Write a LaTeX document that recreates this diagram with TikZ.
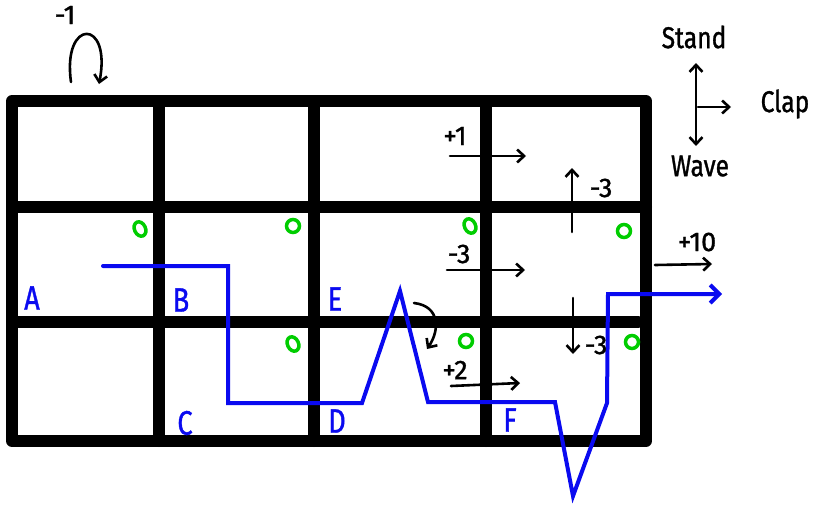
\documentclass[tikz,border=0pt]{standalone}
\usepackage{fontspec}
\setmainfont{Fira Sans}[FakeBold=1.2]
\usetikzlibrary{arrows.meta,shapes.geometric}
\definecolor{pathblue}{RGB}{10,10,240}
\definecolor{markgreen}{RGB}{0,205,0}
\tikzset{
  wall/.style={line width=12pt, line cap=round, line join=round},
  pen/.style={line width=2.6pt, line cap=round, line join=round,
    -{Straight Barb[length=7pt,width=13pt,line width=2.6pt]}},
  dualpen/.style={line width=2.6pt, line cap=round,
    {Straight Barb[length=7pt,width=13pt,line width=2.6pt]}-{Straight Barb[length=7pt,width=13pt,line width=2.6pt]}},
  route/.style={line width=4pt, color=pathblue, line join=miter, line cap=round},
  coin/.style={draw=markgreen, line width=3.5pt, ellipse, minimum width=13pt, minimum height=13pt, inner sep=0pt},
  tallcoin/.style={coin, minimum width=11pt, minimum height=15pt, rotate=25},
  num/.style={font=\fontsize{27}{30}\selectfont, inner sep=0pt},
  word/.style={font=\fontsize{30}{34}\selectfont, inner sep=0pt, xscale=0.82},
  cell/.style={font=\fontsize{34}{38}\selectfont, inner sep=0pt, xscale=0.8, text=pathblue},
}
\begin{document}
\begin{tikzpicture}[x=1pt,y=-1pt]
\useasboundingbox (0,0) rectangle (819,504);

% grid of rooms
\draw[wall] (12,101) rectangle (646,441);
\foreach \gx in {159,314,486} \draw[wall] (\gx,101) -- (\gx,441);
\draw[wall] (12,207) -- (646,207);
\draw[wall] (12,322) -- (638,322);

% green markers
\node[tallcoin] (m1) at (140,229) {};
\node[coin] (m2) at (293,226) {};
\node[tallcoin] (m3) at (470,226) {};
\node[coin] (m4) at (624,231) {};
\node[tallcoin] (m5) at (293,344) {};
\node[coin] (m6) at (466,341) {};
\node[coin] (m7) at (632,342) {};

% room labels
\node[cell] (A) at (32,298) {A};
\node[cell] (B) at (181,300) {B};
\node[cell] (E) at (335,299) {E};
\node[cell] (C) at (185,423) {C};
\node[cell] (D) at (337,421) {D};
\node[cell] (F) at (510,420) {F};

% route
\coordinate (r0) at (103,266);
\coordinate (r1) at (228,266);
\coordinate (r2) at (228,403);
\coordinate (r3) at (362,403);
\coordinate (r4) at (400,291);
\coordinate (r5) at (428,402);
\coordinate (r6) at (555,402);
\coordinate (r7) at (573,496);
\coordinate (r8) at (607,403);
\coordinate (r9) at (608,294);
\coordinate (r10) at (722,294);
\draw[route, -{Straight Barb[length=9pt,width=18pt,line width=4pt]}]
  (r0) -- (r1) -- (r2) -- (r3) -- (r4) -- (r5) -- (r6) -- (r7) -- (r8) -- (r9) -- (r10);

% rewards
\coordinate (p1a) at (450,156); \coordinate (p1b) at (526,156);
\draw[pen] (p1a) -- (p1b);
\node[num] (t1) at (455,136) {+1};

\coordinate (u1a) at (572,232); \coordinate (u1b) at (572,168);
\draw[pen] (u1a) -- (u1b);
\node[num] (t2) at (601,188) {-3};

\coordinate (p3a) at (447,270); \coordinate (p3b) at (525,270);
\draw[pen] (p3a) -- (p3b);
\node[num] (t3) at (459,254) {-3};

\coordinate (p4a) at (655,265); \coordinate (p4b) at (712,264);
\draw[pen] (p4a) -- (p4b);
\node[num] (t4) at (697,242) {+10};

\coordinate (d1a) at (573,298); \coordinate (d1b) at (573,354);
\draw[pen] (d1a) -- (d1b);
\node[num] (t5) at (596,345) {-3};

\coordinate (p6a) at (451,386); \coordinate (p6b) at (520,383);
\draw[pen] (p6a) -- (p6b);
\node[num] (t6) at (455,370) {+2};

% bounce arrow near E
\coordinate (bA) at (414,303);
\coordinate (bB) at (427,349);
\draw[pen] (bA) .. controls (440,306) and (440,330) .. (bB);

% self loop in the corner
\coordinate (lA) at (71,82);
\coordinate (lB) at (99,84);
\draw[pen] (lA) .. controls (62,18) and (112,18) .. (lB);
\node[num] (t7) at (65,15) {-1};

% action legend
\coordinate (sUp) at (696,63);
\coordinate (sDn) at (696,146);
\coordinate (sMid) at (698,107);
\coordinate (sRt) at (731,107);
\draw[dualpen] (sDn) -- (sUp);
\draw[pen] (sMid) -- (sRt);
\node[word] (stand) at (694,37) {Stand};
\node[word] (clap) at (785,104) {Clap};
\node[word] (wave) at (700,166) {Wave};
\end{tikzpicture}
\end{document}
